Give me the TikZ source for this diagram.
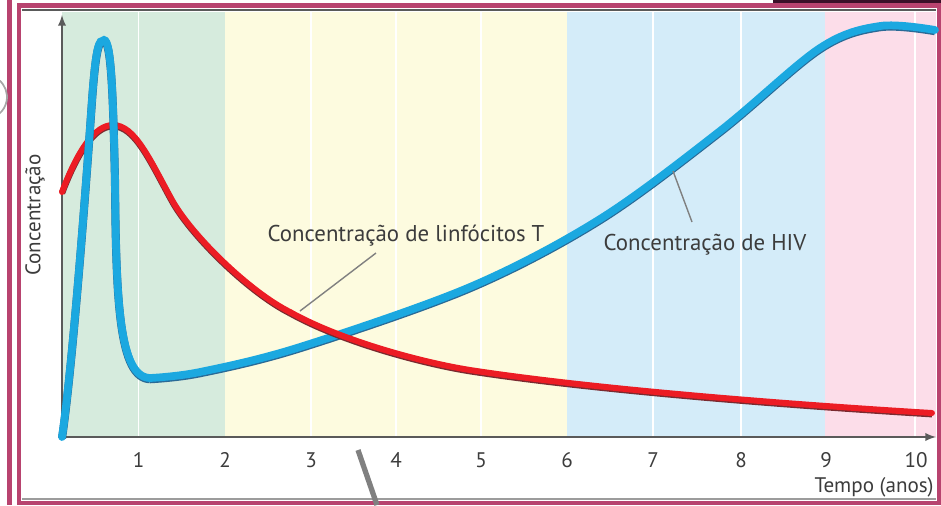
\documentclass[tikz,border=0pt]{standalone}
\usepackage{fontspec}
\setmainfont{PT Sans}
\usepackage{tikz}
\usetikzlibrary{arrows}
\definecolor{frame}{HTML}{B8436F}
\definecolor{darkband}{HTML}{3A1028}
\definecolor{phasegreen}{HTML}{D6EBDD}
\definecolor{phaseyellow}{HTML}{FDFBDF}
\definecolor{phaseblue}{HTML}{D4ECF9}
\definecolor{phasepink}{HTML}{FCDDE9}
\definecolor{hivblue}{HTML}{1BA8E0}
\definecolor{hivshade}{HTML}{2A6A96}
\definecolor{tred}{HTML}{EC1C24}
\definecolor{tshade}{HTML}{7A2A30}
\definecolor{axisgray}{HTML}{5A5A5A}
\definecolor{textgray}{HTML}{3C3C3C}

\begin{document}
\begin{tikzpicture}[x=0.02cm,y=-0.02cm,
  lbl/.style={text=textgray,font=\fontsize{12}{14}\selectfont,inner sep=0pt},
  curvelbl/.style={lbl,font=\fontsize{13}{15}\selectfont},
  grid/.style={white,line width=0.8pt},
  leader/.style={gray,line width=0.8pt},
  hiv/.style={hivblue,line width=4.4pt,line cap=round,
    preaction={draw,hivshade,line width=4.6pt,transform canvas={yshift=-0.7pt}}},
  lymph/.style={tred,line width=3.4pt,line cap=round,
    preaction={draw,tshade,line width=3.6pt,transform canvas={yshift=-0.7pt}}}]
\useasboundingbox (0,0) rectangle (941,505);
% frame
\fill[darkband] (773,0) rectangle (941,4);
\fill[frame] (7,0) rectangle (12,505);
\draw[frame,line width=2.6pt] (19,5.5) rectangle (939,503);
\draw[axisgray,line width=0.9pt] (22,10) -- (936,10);
\draw[axisgray!60,line width=0.9pt] (22,499) -- (936,499);
\draw[gray!70,line width=1pt] (-15,97) ++(-50:22) arc (-50:50:22);
% phases
\fill[phasegreen] (62,12) rectangle (225,437);
\fill[phaseyellow] (225,12) rectangle (567,437);
\fill[phaseblue] (567,12) rectangle (825,437);
\fill[phasepink] (825,12) rectangle (936,437);
\draw[grid] (138.5,12) -- (138.5,437);
\draw[grid] (311,12) -- (311,437);
\draw[grid] (396,12) -- (396,437);
\draw[grid] (481,12) -- (481,437);
\draw[grid] (653,12) -- (653,437);
\draw[grid] (741,12) -- (741,437);
\draw[grid] (915,12) -- (915,437);
% axes
\coordinate (ytop) at (62,15);
\coordinate (o) at (62,437);
\coordinate (xend) at (936,437);
\draw[latex-latex,axisgray,line width=1.1pt] (ytop) -- (o) -- (xend);
\node[lbl,rotate=90] (ylab) at (35,215) {Concentração};
\node[lbl] (t1) at (138.5,460) {1};
\node[lbl] (t2) at (225,460) {2};
\node[lbl] (t3) at (311,460) {3};
\node[lbl] (t4) at (396,460) {4};
\node[lbl] (t5) at (481,460) {5};
\node[lbl] (t6) at (567,460) {6};
\node[lbl] (t7) at (653,460) {7};
\node[lbl] (t8) at (741,460) {8};
\node[lbl] (t9) at (826,460) {9};
\node[lbl] (t10) at (916,460) {10};
\node[lbl,anchor=east] (xlab) at (934,487) {Tempo (anos)};
% curves
\draw[lymph] (62,192) .. controls (78,150) and (95,125) .. (113,125)
  .. controls (135,125) and (150,160) .. (172,200)
  .. controls (192,236) and (250,292) .. (290,312);
\draw[hiv] (62,437) .. controls (72,370) and (85,200) .. (92,100)
  .. controls (96,45) and (99,40) .. (104,40)
  .. controls (111,40) and (113,90) .. (115,180)
  .. controls (116,300) and (119,377) .. (150,378);
\draw[hiv] plot[smooth,tension=0.55] coordinates {(150,378) (200,372) (300,347) (470,287) (600,219) (720,131) (820,48) (880,26) (935,30)};
\draw[lymph] (290,312) .. controls (340,340) and (420,362) .. (470,370)
  .. controls (600,390) and (800,405) .. (932,413);
% labels
\node[curvelbl] (lbT) at (406,236) {Concentração de linfócitos T};
\coordinate (tcurve) at (300,311);
\coordinate (ttext) at (376,253);
\draw[leader] (tcurve) -- (ttext);
\node[curvelbl] (lbHIV) at (705,245) {Concentração de HIV};
\coordinate (hcurve) at (673,171);
\coordinate (htext) at (692,222);
\draw[leader] (hcurve) -- (htext);
% pointer
\draw[gray,line width=3pt] (358,450) -- (377,505);
\end{tikzpicture}
\end{document}
